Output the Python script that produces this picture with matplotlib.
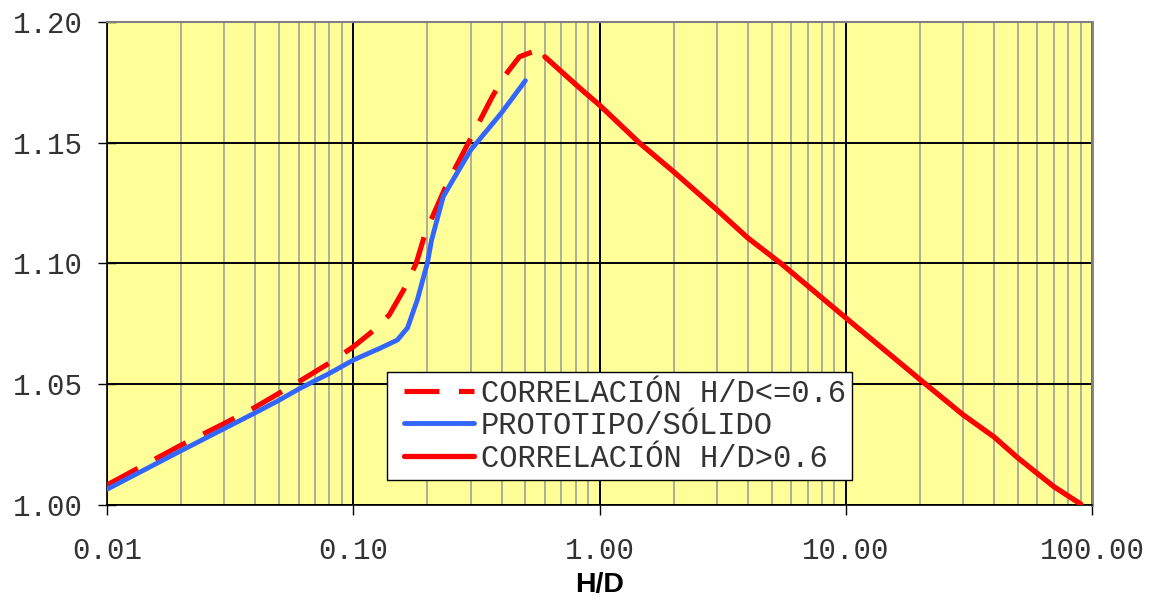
import matplotlib
matplotlib.use("Agg")
import matplotlib.pyplot as plt
from matplotlib.lines import Line2D
from matplotlib.legend_handler import HandlerLine2D
from matplotlib.ticker import FixedLocator, FixedFormatter, LogLocator, NullFormatter

# ---- data ----
dashed_x = [0.01, 0.02, 0.03, 0.04, 0.05, 0.06, 0.08, 0.1, 0.12, 0.14, 0.16, 0.18,
            0.196, 0.239, 0.3, 0.364, 0.405, 0.473, 0.536, 0.6]
dashed_y = [1.0083, 1.0248, 1.0338, 1.0405, 1.0463, 1.051, 1.0588, 1.0655, 1.072,
            1.0787, 1.089, 1.100, 1.1125, 1.1325, 1.1518, 1.1684, 1.1767, 1.1856,
            1.1877, 1.1856]

proto_x = [0.01, 0.02, 0.03, 0.04, 0.05, 0.06, 0.08, 0.1, 0.129, 0.151, 0.166, 0.182,
           0.2, 0.208, 0.232, 0.254, 0.3, 0.4, 0.5]
proto_y = [1.0065, 1.0225, 1.0317, 1.0382, 1.0434, 1.048, 1.0545, 1.060, 1.065, 1.0683,
           1.0733, 1.0849, 1.1002, 1.1097, 1.1277, 1.1346, 1.147, 1.1624, 1.1757]

solid_x = [0.6, 0.83, 1.0, 1.45, 2, 3, 4, 5.46, 10, 20, 30, 40, 50, 70, 90]
solid_y = [1.1856, 1.1727, 1.1656, 1.15, 1.138, 1.1222, 1.1106, 1.10, 1.0775, 1.052,
           1.0373, 1.0282, 1.0195, 1.0076, 1.0004]

series_labels = ["CORRELACIÓN H/D<=0.6", "PROTOTIPO/SÓLIDO", "CORRELACIÓN H/D>0.6"]

x_ticks = [0.01, 0.1, 1, 10, 100]
x_tick_labels = ["0.01", "0.10", "1.00", "10.00", "100.00"]
y_ticks = [1.00, 1.05, 1.10, 1.15, 1.20]
y_tick_labels = ["1.00", "1.05", "1.10", "1.15", "1.20"]
x_label = "H/D"

# ---- figure ----
mono = "Liberation Mono"
text_color = "#333333"
fig = plt.figure(figsize=(11.51, 5.97), dpi=100)
ax = fig.add_axes([107/1151, 1-505/597, (1092-107)/1151, (505-22)/597])
ax.set_facecolor("#FFFF99")

ax.set_xscale("log")
ax.set_xlim(0.01, 100)
ax.set_ylim(1.0, 1.2)

ax.plot(dashed_x, dashed_y, color="#FF0000", lw=3.7, linestyle=(0, (6.8, 3.8)),
        label=series_labels[0], zorder=3, dash_capstyle="butt")
ax.plot(proto_x, proto_y, color="#3366FF", lw=3.5, label=series_labels[1], zorder=4,
        solid_capstyle="round", solid_joinstyle="round")
ax.plot(solid_x, solid_y, color="#FF0000", lw=3.8, label=series_labels[2], zorder=5,
        solid_capstyle="round", solid_joinstyle="round")

ax.xaxis.set_major_locator(FixedLocator(x_ticks))
ax.xaxis.set_major_formatter(FixedFormatter(x_tick_labels))
ax.xaxis.set_minor_locator(LogLocator(base=10, subs=range(2, 10), numticks=20))
ax.xaxis.set_minor_formatter(NullFormatter())
ax.yaxis.set_major_locator(FixedLocator(y_ticks))
ax.yaxis.set_major_formatter(FixedFormatter(y_tick_labels))

ax.grid(which="major", color="black", lw=1.4, zorder=1)
ax.grid(which="minor", axis="x", color="#999999", lw=1.1, zorder=1)
ax.set_axisbelow(True)

ax.tick_params(axis="x", which="major", direction="out", length=7, width=1,
               pad=16, labelsize=21, color="black")
ax.tick_params(axis="x", which="minor", length=0)
ax.tick_params(axis="y", which="major", direction="inout", length=12.5, width=1,
               pad=11, labelsize=21, color="black")
for lab in ax.get_xticklabels() + ax.get_yticklabels():
    lab.set_fontfamily(mono)
    lab.set_color(text_color)

ax.spines["left"].set_color("black")
ax.spines["bottom"].set_color("black")
ax.spines["left"].set_linewidth(1.2)
ax.spines["bottom"].set_linewidth(1.2)
ax.spines["top"].set_color("#808080")
ax.spines["right"].set_color("#808080")
ax.spines["top"].set_linewidth(1.5)
ax.spines["right"].set_linewidth(2)

ax.set_xlabel(x_label, fontfamily="Liberation Sans", fontweight="bold",
              fontsize=20.5, labelpad=5)

leg = ax.legend(loc="lower left", bbox_to_anchor=(0.284, 0.052),
                prop={"family": mono, "size": 22}, frameon=True, fancybox=False,
                framealpha=1, edgecolor="black", handlelength=2.65,
                handletextpad=0.22, borderpad=0.2, labelspacing=0.085,
                borderaxespad=0,
                handler_map={Line2D: HandlerLine2D(xpad=0.35)})
leg.get_frame().set_linewidth(1.0)
for t in leg.get_texts():
    t.set_color(text_color)

fig.savefig("out.png", dpi=100)
